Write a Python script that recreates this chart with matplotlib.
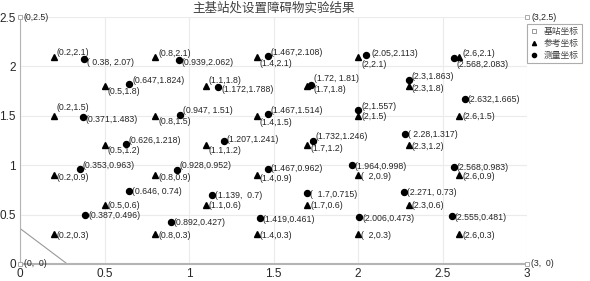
import matplotlib
matplotlib.use("Agg")
import matplotlib.pyplot as plt
from matplotlib.lines import Line2D

plt.rcParams['font.family'] = ['Liberation Sans', 'Noto Sans CJK SC', 'DejaVu Sans']

# base stations
base_x = [0, 3, 0, 3]
base_y = [2.5, 2.5, 0, 0]
base_labels = ["(0,2.5)", "(3,2.5)", "(0,  0)", "(3,  0)"]

# reference points
ref_x = [0.2, 0.8, 1.4, 2.0, 2.6,
         0.5, 1.1, 1.7, 2.3,
         0.2, 0.8, 1.4, 2.0, 2.6,
         0.5, 1.1, 1.7, 2.3,
         0.2, 0.8, 1.4, 2.0, 2.6,
         0.5, 1.1, 1.7, 2.3,
         0.2, 0.8, 1.4, 2.0, 2.6]
ref_y = [2.1] * 5 + [1.8] * 4 + [1.5] * 5 + [1.2] * 4 + [0.9] * 5 + [0.6] * 4 + [0.3] * 5
ref_labels = ["(0.2,2.1)", "(0.8,2.1)", "(1.4,2.1)", "(2,2.1)", "(2.6,2.1)",
              "(0.5,1.8)", "(1.1,1.8)", "(1.7,1.8)", "(2.3,1.8)",
              "(0.2,1.5)", "(0.8,1.5)", "(1.4,1.5)", "(2,1.5)", "(2.6,1.5)",
              "(0.5,1.2)", "(1.1,1.2)", "(1.7,1.2)", "(2.3,1.2)",
              "(0.2,0.9)", "(0.8,0.9)", "(1.4,0.9)", "(  2,0.9)", "(2.6,0.9)",
              "(0.5,0.6)", "(1.1,0.6)", "(1.7,0.6)", "(2.3,0.6)",
              "(0.2,0.3)", "(0.8,0.3)", "(1.4,0.3)", "(  2,0.3)", "(2.6,0.3)"]

# measured points
meas_x = [0.38, 0.939, 1.467, 2.05, 2.568,
          0.647, 1.172, 1.72, 2.3, 2.632,
          0.371, 0.947, 1.467, 2.0,
          0.626, 1.207, 1.732, 2.28,
          0.353, 0.928, 1.467, 1.964, 2.568,
          0.646, 1.139, 1.7, 2.271,
          0.387, 0.892, 1.419, 2.006, 2.555]
meas_y = [2.07, 2.062, 2.108, 2.113, 2.083,
          1.824, 1.788, 1.81, 1.863, 1.665,
          1.483, 1.51, 1.514, 1.557,
          1.218, 1.241, 1.246, 1.317,
          0.963, 0.952, 0.962, 0.998, 0.983,
          0.74, 0.7, 0.715, 0.73,
          0.496, 0.427, 0.461, 0.473, 0.481]
meas_labels = ["( 0.38, 2.07)", "(0.939,2.062)", "(1.467,2.108)", "(2.05,2.113)", "(2.568,2.083)",
               "(0.647,1.824)", "(1.172,1.788)", "(1.72, 1.81)", "(2.3,1.863)", "(2.632,1.665)",
               "(0.371,1.483)", "(0.947, 1.51)", "(1.467,1.514)", "(2,1.557)",
               "(0.626,1.218)", "(1.207,1.241)", "(1.732,1.246)", "( 2.28,1.317)",
               "(0.353,0.963)", "(0.928,0.952)", "(1.467,0.962)", "(1.964,0.998)", "(2.568,0.983)",
               "(0.646, 0.74)", "(1.139,  0.7)", "(  1.7,0.715)", "(2.271, 0.73)",
               "(0.387,0.496)", "(0.892,0.427)", "(1.419,0.461)", "(2.006,0.473)", "(2.555,0.481)"]

# obstacle edge
obst_x = [0, 0.28]
obst_y = [0.36, 0]

# label shifts in pixels (down = positive)
ref_dy = [-4, -3, 7, 8, -3,
          5, -6, 3, 2,
          -8, 6, 7, 1, 1,
          5, 5, 3, 1,
          2, 2, 3, 1, 1,
          1, 1, 1, 1,
          1, 1, 1, 1, 1]
ref_dx = [3] * 32
ref_dx[7] = 6
meas_dy = [3, 2, -3, -2, 6,
           -3, 2, -7, -3, 0,
           2, -4, -4, -4,
           -3, -2, -4, 1,
           -3, -4, 0, 1, 1,
           1, 1, 1, 1,
           1, 1, 1, 1, 1]
meas_dx = [3] * 32
meas_dx[3] = 5

AX_GRAY = '#b4b4b4'
TXT = '#262626'
LBL_SIZE = 6.3

fig = plt.figure(figsize=(5.9, 2.81), dpi=100)
ax = fig.add_axes([20 / 590, 17 / 281, 507 / 590, 247 / 281])

ax.plot(obst_x, obst_y, color='#999999', lw=0.8)
ax.plot(base_x, base_y, linestyle='none', marker='s', ms=3.5, mfc='white', mec='#aaaaaa', mew=0.7,
        clip_on=False, zorder=5)
ax.plot(ref_x, ref_y, linestyle='none', marker='^', ms=4.2, color='black', zorder=5)
ax.plot(meas_x, meas_y, linestyle='none', marker='o', ms=4.3, color='black', zorder=5)

for x, y, s in zip(base_x, base_y, base_labels):
    ax.annotate(s, (x, y), xytext=(4, 0), textcoords='offset pixels', fontsize=LBL_SIZE,
                va='center', ha='left', color=TXT, annotation_clip=False)
for x, y, s, dx, dy in zip(ref_x, ref_y, ref_labels, ref_dx, ref_dy):
    ax.annotate(s, (x, y), xytext=(dx, -dy), textcoords='offset pixels', fontsize=LBL_SIZE,
                va='center', ha='left', color=TXT)
for x, y, s, dx, dy in zip(meas_x, meas_y, meas_labels, meas_dx, meas_dy):
    ax.annotate(s, (x, y), xytext=(dx, -dy), textcoords='offset pixels', fontsize=LBL_SIZE,
                va='center', ha='left', color=TXT)

ax.set_xlim(0, 3)
ax.set_ylim(0, 2.5)
ax.set_xticks([0, 0.5, 1, 1.5, 2, 2.5, 3])
ax.set_xticklabels(["0", "0.5", "1", "1.5", "2", "2.5", "3"])
ax.set_yticks([0, 0.5, 1, 1.5, 2, 2.5])
ax.set_yticklabels(["0", "0.5", "1", "1.5", "2", "2.5"])
ax.grid(True, color='#ebebeb', lw=0.8)
ax.set_axisbelow(True)
for side in ['top', 'right']:
    ax.spines[side].set_visible(False)
ax.spines['left'].set_color(AX_GRAY)
ax.spines['left'].set_linewidth(0.8)
ax.spines['bottom'].set_color(AX_GRAY)
ax.spines['bottom'].set_linewidth(1.5)
ax.tick_params(length=0, labelsize=8.5, colors=TXT, pad=3)

ax.set_title("主基站处设置障碍物实验结果", fontsize=9, color='#404040', pad=4,
             family=['Noto Sans CJK SC', 'DejaVu Sans'])

handles = [
    Line2D([], [], linestyle='none', marker='s', ms=3, mfc='white', mec='#888888', mew=0.6),
    Line2D([], [], linestyle='none', marker='^', ms=3, color='black'),
    Line2D([], [], linestyle='none', marker='o', ms=3, color='black'),
]
leg = ax.legend(handles, ["基站坐标", "参考坐标", "测量坐标"], loc='upper left',
                bbox_to_anchor=(527 / 590, 1 - 24 / 281), bbox_transform=fig.transFigure,
                prop={'family': ['Noto Sans CJK SC'], 'size': 6.3},
                frameon=True, fancybox=False, borderpad=0.35, labelspacing=0.35,
                handlelength=1.0, handletextpad=0.6, borderaxespad=0)
leg.get_frame().set_edgecolor('#999999')
leg.get_frame().set_linewidth(0.8)
for t in leg.get_texts():
    t.set_color('#404040')

fig.savefig("out.png", dpi=100)
